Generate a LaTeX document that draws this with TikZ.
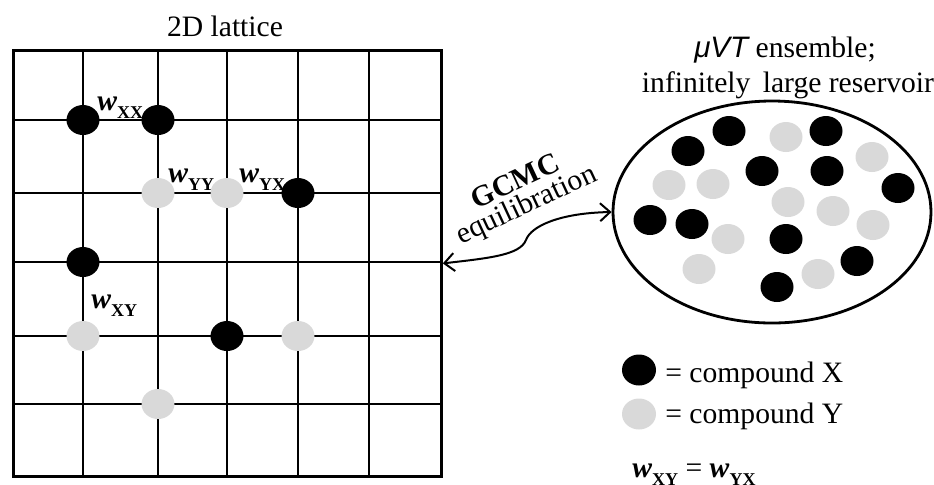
\documentclass[tikz,border=0pt]{standalone}
\usepackage{fontspec}
\setmainfont{Liberation Serif}
\setsansfont{Liberation Sans}
\usetikzlibrary{shapes.geometric,arrows.meta}
\definecolor{ygray}{HTML}{D9D9D9}
\newcommand\wl[1]{\textbf{\textit{w}}\raisebox{-4pt}{\fontsize{9}{11}\selectfont\bfseries #1}}
\begin{document}
\begin{tikzpicture}[x=0.5pt,y=-0.5pt,
  every node/.style={font=\fontsize{14.8}{17.8}\selectfont},
  gridline/.style={line width=1pt},
  pt/.style={ellipse, minimum width=16.5pt, minimum height=15pt, inner sep=0pt},
  xp/.style={pt, fill=black},
  yp/.style={pt, fill=ygray},
  lab/.style={inner sep=0pt, anchor=base west},
  >={Straight Barb[length=5pt,width=9pt]}]
\useasboundingbox (0,0) rectangle (934,484);
% lattice
\node[anchor=base, inner sep=0pt] (ttl) at (225,36) {2D lattice};
\foreach \x in {83,158,227,298,369} \draw[gridline] (\x,49) -- (\x,475);
\foreach \y in {120,193,262,336,404} \draw[gridline] (12,\y) -- (440,\y);
\node[draw, line width=1.4pt, minimum width=214pt, minimum height=213pt, inner sep=0pt, anchor=north west] (lat) at (12,49) {};
% particles on the lattice
\node[xp] (a1) at (83,120) {};
\node[xp] (a2) at (158,120) {};
\node[yp] (a3) at (158,193) {};
\node[yp] (a4) at (227,193) {};
\node[xp] (a5) at (298,193) {};
\node[xp] (a6) at (83,262) {};
\node[yp] (a7) at (83,336) {};
\node[xp] (a8) at (227,336) {};
\node[yp] (a9) at (298,336) {};
\node[yp] (a10) at (158,404) {};
% interaction labels
\node[lab] (wxx) at (97,110) {\wl{XX}};
\node[lab] (wyy) at (168,182) {\wl{YY}};
\node[lab] (wyx) at (239,182) {\wl{YX}};
\node[lab] (wxy) at (91,308) {\wl{XY}};
% reservoir
\node[anchor=base, inner sep=0pt] (t1) at (785,57) {{\sffamily\itshape μVT} ensemble;};
\node[anchor=base, inner sep=0pt] (t2) at (788,92) {infinitely\, large reservoir};
\node[draw, ellipse, line width=1.4pt, minimum width=159pt, minimum height=111pt, inner sep=0pt] (res) at (772,212) {};
\node[xp] (r1) at (729,131) {};
\node[xp] (r2) at (688,151) {};
\node[xp] (r3) at (826,131) {};
\node[xp] (r4) at (762,171) {};
\node[xp] (r5) at (827,171) {};
\node[xp] (r6) at (898,188) {};
\node[xp] (r7) at (650,220) {};
\node[xp] (r8) at (692,224) {};
\node[xp] (r9) at (786,239) {};
\node[xp] (r10) at (857,261) {};
\node[xp] (r11) at (777,287) {};
\node[yp] (r12) at (786,137) {};
\node[yp] (r13) at (872,157) {};
\node[yp] (r14) at (669,185) {};
\node[yp] (r15) at (713,184) {};
\node[yp] (r16) at (788,202) {};
\node[yp] (r17) at (833,211) {};
\node[yp] (r18) at (873,225) {};
\node[yp] (r19) at (728,239) {};
\node[yp] (r20) at (699,269) {};
\node[yp] (r21) at (818,274) {};
% arrow
\draw[line width=1pt, <->] (lat.east) .. controls (490,258) and (520,255) .. (526,240) .. controls (531,226) and (560,213) .. (res.west);
\node[rotate=25, inner sep=0pt] (gc) at (515,181) {\textbf{GCMC}};
\node[rotate=25, inner sep=0pt] (eq) at (527,206) {equilibration};
% legend
\node[xp, minimum width=17pt, minimum height=15.5pt] (lx) at (639,370) {};
\node[yp, minimum width=17pt, minimum height=15.5pt] (ly) at (639,414) {};
\node[lab] (lxt) at (665,382) {= compound X};
\node[lab] (lyt) at (665,423) {= compound Y};
\node[lab] (weq) at (632,477) {\wl{XY} = \wl{YX}};
\end{tikzpicture}
\end{document}
